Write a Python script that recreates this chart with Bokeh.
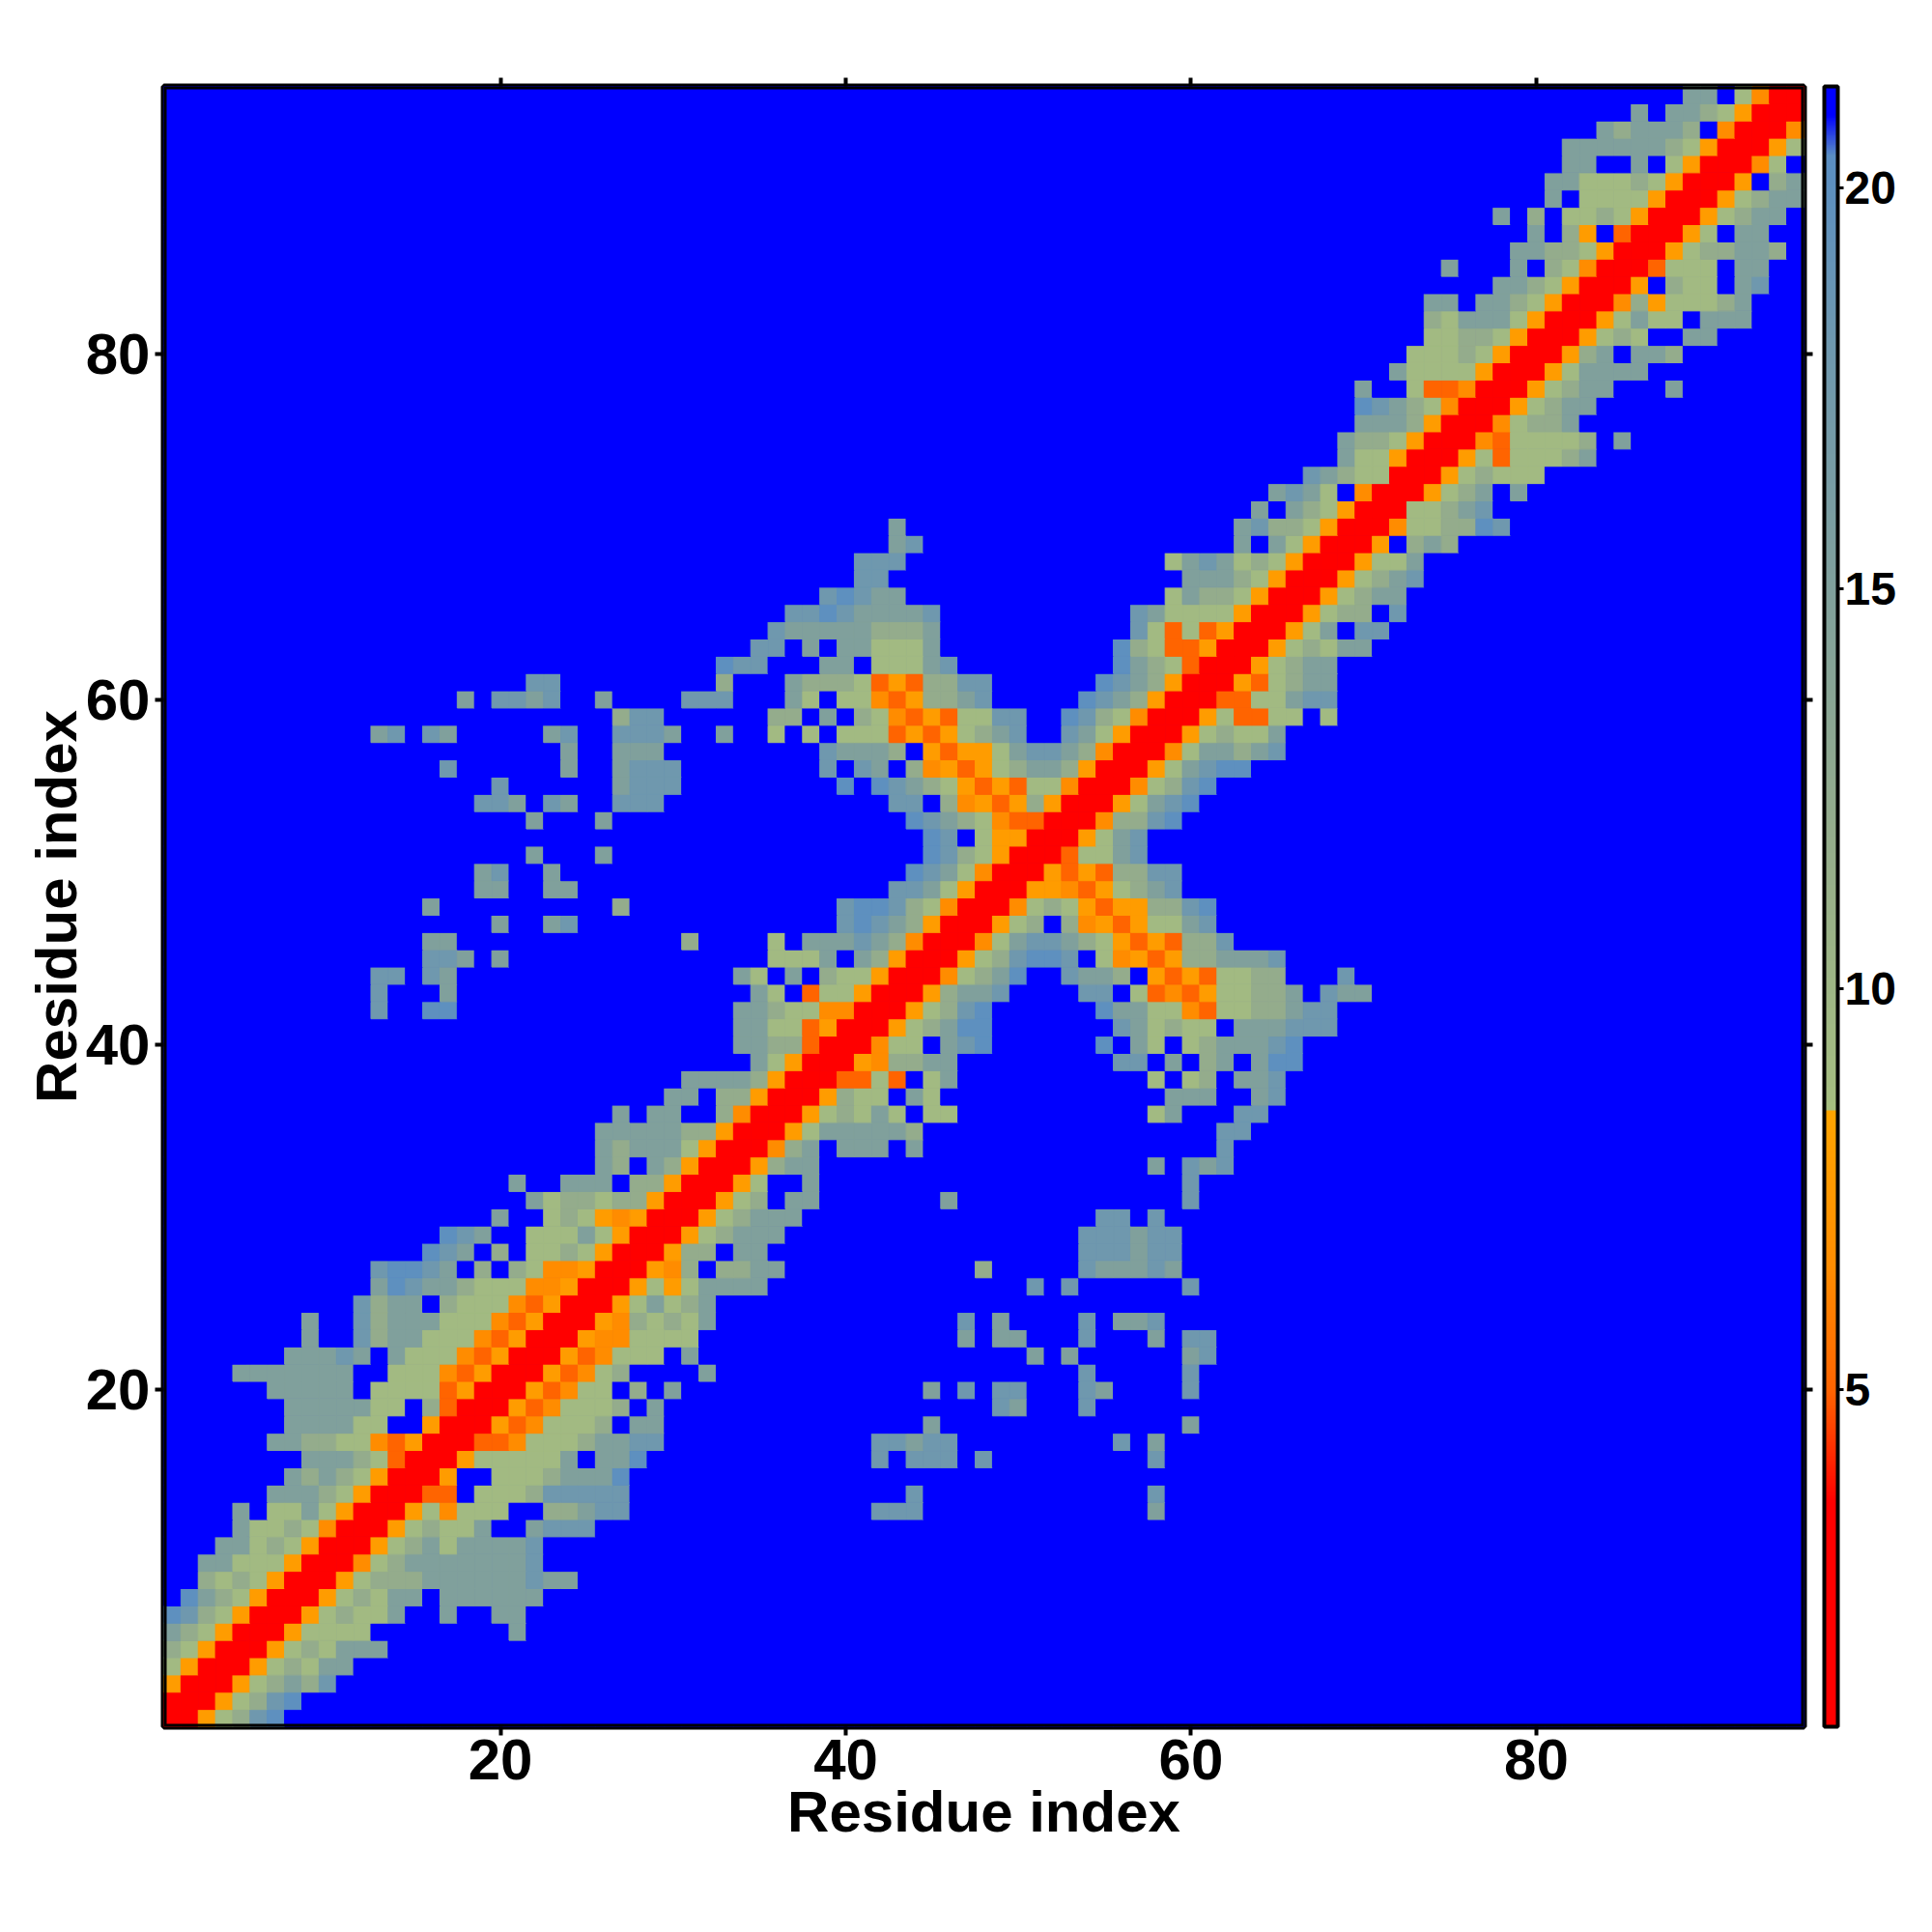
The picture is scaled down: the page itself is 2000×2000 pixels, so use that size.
from bokeh.plotting import figure
from bokeh.models import (LinearColorMapper, ColorBar, Range1d, LinearAxis, FixedTicker,
                          ColumnDataSource, CustomLabelingPolicy)
from bokeh.transform import transform
from bokeh.embed import file_html
from bokeh.resources import INLINE

N_RESIDUES = 95
X_TICKS = [20, 40, 60, 80]
CBAR_TICKS = [5, 10, 15, 20]
AXIS_TITLE = "Residue index"
FONT = "Liberation Sans"

# Distance class -> distance value
CLASS_VALUE = {"r": 2.5, "d": 5.0, "o": 6.5, "y": 7.8, "g": 9.2, "h": 12.0,
               "t": 15.0, "b": 18.0, "s": 20.0, ".": 21.2}

# Each row (residue 1 upward): "start_column:cell classes"; unlisted cells are "." (no contact)
ROWS = [
"1:rryghbs",
"1:rrryghbs",
"1:yrrryghthb",
"1:gyrrryghgtt",
"1:hgyrrryghgttt",
"1:thgyrrrygggg 21:t",
"1:sbhgyrrryghggt 17:t 20:tt",
"2:sthgyrrryghgtt 17:tttttt",
"3:hghgyrrryghhhttttttbtt",
"3:ttgggyrrrogh 15:tttttttb",
"4:ttghgyrrryghtgttttb",
"5:tgghgorrryghggt 22:tbbb",
"5:t 7:ggtgyrrrygoggg 23:hhtbb 42:bbb 58:t",
"7:ttthgyrrrdd 19:ggghbbbbb 44:b 58:b",
"8:ththgyrrry 20:ggghttts",
"9:ttthgdrrrygggggt 26:tts 42:b 44:bbb 48:b 58:b",
"7:tthhggodyrrrddoggg 25:httbb 42:bbtbb 56:b 58:t",
"8:ttttgg 16:yrrrydogg 25:gh 28:tt 45:t 60:t",
"8:tttttgg 16:hdrrrydog 25:ggh 29:t 49:bt 54:b",
"7:ttttt 13:ggggdyrrrydo 25:gg 28:h 30:t 45:t 47:b 49:bb 54:bt 60:b",
"5:ttttttt 14:gggodyrrryd 25:ogh 32:t 54:b 60:b",
"8:tttbt 14:tgggodyrrry 25:doggg 31:t 51:t 53:t 60:tb",
"9:t 12:bhttgggodyrrr 25:yoogggg 47:t 49:tt 54:b 58:t 60:bb",
"9:t 12:bhtttgggodyrr 25:ryohghgt 47:b 49:t 54:b 56:ttb",
"12:bhtt 17:hgggodyrrrygtght",
"13:tsbtthgggooyrrrygygtttt 51:b 53:b 60:b",
"13:bssbt 19:h 21:hgooyrrryoh 33:hhtt 48:h 54:btttbt",
"16:sbt 20:h 22:gghgyrrryhh 34:tt 54:bbbtbb",
"17:sbt 22:gggtgyrrryghttt 54:bbbtbb",
"20:t 23:ghgyoyrrryghttt 55:bb 58:b",
"22:tghhghhyrrrygh 37:tt 46:t 60:b",
"21:t 24:ttt 28:hhyrrryg 38:t 60:b",
"26:th 29:thyrrryhtt 58:t 60:btb",
"26:thtttgyrrroht 40:ttt 44:t 62:b",
"26:ttttthhyrrrygttttth 62:bb",
"27:t 29:tt 33:horrryghgtg 45:gg 58:gt 63:bb",
"30:tt 33:hhyrrryhgg 44:tg 59:ttt 64:tb",
"31:tttthyrrrddgd 45:gt 58:g 60:gh 63:ttb",
"35:tgyrrryohhtt 56:bb 59:t 61:ht 64:tss",
"34:tthhdrrrogg 46:tbs 55:s 57:tg 60:ghtttbs",
"34:ttggdyrrryghtss 56:btghgg 63:tttbbb",
"13:b 16:ss 34:tthggoorrryghbs 55:sttggodgghhtbb",
"13:b 17:t 35:tg 38:dggyrrryhttb 54:bb 57:gdodygghht 68:btt",
"13:bb 16:bt 34:tg 37:t 39:hggyrrroghts 53:btth 58:ydydgghh 69:b",
"16:bbt 20:t 36:gggt 41:thyrrryghbssb 55:goydyhhtttb",
"16:tt 31:h 36:g 38:tttbthorrrogtbbthgydydhhb",
"20:t 23:tb 40:bsbthyrrrygh 53:hoydyggtb",
"16:t 27:h 40:bssbhgorrroghgydyyhhbs",
"19:tt 23:tt 43:bbtgyrrryyodyghtb",
"19:tb 23:t 44:sbtgorrrydydhhbb",
"22:t 26:t 45:sbhgyrrrdggtb",
"45:sb 48:gyyrrrygtb",
"22:t 26:t 44:sbthgoddrrrohhbs",
"19:bbt 23:bt 27:bbb 43:bb 46:hoydyhyrrrygtbs",
"20:b 27:tbbb 40:s 42:sbthgydydggorrroghbs",
"17:b 24:t 27:tbbb 39:b 41:bt 44:hoydyghtthyrrrygtbss",
"24:t 27:ttt 39:bttth 45:ydyygtbbthorrrogtthtb",
"13:tb 16:bt 23:tb 27:bbbt 33:t 36:g 38:g 40:gggdydygh 49:tb 53:btgyrrryghggt",
"27:hbb 36:hh 39:t 41:hgodydggbb 53:sbhgorrrygddgg 68:g",
"18:t 20:bbtb 26:t 31:bbb 37:tg 40:ggodyhhtb 54:sbthyrrrddggtbb",
"22:bb 33:h 37:thhhgdydhhbb 55:sbthyrrrydghtt",
"33:sbb 39:tt 42:gggtb 56:sthgdrrryghtt",
"35:bb 38:t 40:ttgggt 56:shgddyrrryghgtt",
"36:bttttthhht 57:bgdgdyrrrygt 70:bb",
"37:bbsbttttb 57:btggggyrrryghh 72:b",
"39:bsbtt 59:gthhgyrrryghtt",
"41:bb 60:ttthgyrrryghtb",
"41:bbb 59:gtbtghgyrrryggt",
"43:tb 63:t 65:tgyrrry 73:hth",
"43:t 63:tbhhgyrrrogghhsb",
"64:t 66:thgyrrrgghtb",
"65:tbtg 70:orrryght 79:t",
"67:bthggrrryghggg",
"69:tggyrrrygdggght",
"69:thhgyrrrodggggh 85:t",
"70:ttthyrrroghht",
"70:sbthgorrryghtt",
"70:t 73:gddorrryghtt 88:t",
"72:tggggyrrrygtttt",
"73:ggghgyrrryht 86:tth",
"74:gghhgyrrryghg 89:tt",
"74:hgtttgyrrrygtgg 90:ttt",
"74:tt 77:tthgyrrrohyggght",
"78:tthgyrrry 88:hgg 92:tb",
"75:t 79:t 81:hgorrrdggg 92:tt",
"79:tthhgyrrryghhtth",
"80:t 82:hy 85:drrryg 92:tt",
"78:t 80:h 82:gghgyrrryghtt",
"81:t 83:ggggyrrryghtt",
"81:ttggghgyrrry 94:ht",
"82:tt 86:t 88:gyrrrog",
"82:tttttthgyrrryg",
"84:thttth 91:orrro",
"86:t 88:tthgyrrr",
"89:tt 92:gorr",
]

# Colour ramp stops: (distance, rgb)
LOW, HIGH = 0.8, 21.26
STOPS = [(0.8, (255, 0, 0)), (3.6, (255, 0, 0)), (5.0, (255, 100, 0)), (6.5, (255, 140, 0)),
         (8.5, (255, 165, 0)), (8.5001, (166, 190, 128)), (12.0, (148, 172, 140)),
         (15.0, (128, 160, 156)), (18.0, (111, 152, 174)), (20.4, (90, 142, 194)),
         (20.9, (0, 0, 255)), (21.26, (0, 0, 255))]


def ramp(v):
    for (a, ca), (b, cb) in zip(STOPS, STOPS[1:]):
        if v <= b:
            f = (v - a) / (b - a)
            return "#%02x%02x%02x" % tuple(round(x + (y - x) * f) for x, y in zip(ca, cb))
    return "#0000ff"


palette = [ramp(LOW + (HIGH - LOW) * (i + 0.5) / 1024) for i in range(1024)]
mapper = LinearColorMapper(palette=palette, low=LOW, high=HIGH)

xs, ys, vals = [], [], []
for row_no, row in enumerate(ROWS, start=1):
    cells = {}
    for run in row.split():
        start, text = run.split(":")
        for k, ch in enumerate(text):
            cells[int(start) + k] = ch
    for col in range(1, N_RESIDUES + 1):
        xs.append(col)
        ys.append(row_no)
        vals.append(CLASS_VALUE[cells.get(col, ".")])
source = ColumnDataSource(dict(x=xs, y=ys, v=vals))

lo_edge, hi_edge = 0.5, N_RESIDUES + 0.5
p = figure(frame_width=1698, frame_height=1698, output_backend="svg", toolbar_location=None,
           x_range=Range1d(lo_edge, hi_edge), y_range=Range1d(lo_edge, hi_edge),
           min_border_left=169, min_border_top=89, min_border_right=20, min_border_bottom=20,
           background_fill_color="#0000ff", border_fill_color="white")
p.grid.visible = False
p.rect("x", "y", width=1, height=1, source=source,
       fill_color=transform("v", mapper), line_color=transform("v", mapper), line_width=1)
# Frame: the clipped glyph gives the inner half of the border, the outline the outer half
p.quad(left=[lo_edge], right=[hi_edge], bottom=[lo_edge], top=[hi_edge],
       fill_color=None, line_color="black", line_width=6)
p.outline_line_color = "black"
p.outline_line_width = 6

NO_LABELS = CustomLabelingPolicy(code="for (const i of Array.from(indices)) indices.unset(i); return indices;")


def style_axis(ax, labelled):
    ax.ticker = FixedTicker(ticks=X_TICKS)
    ax.major_tick_in = 0
    ax.major_tick_out = 9
    ax.minor_tick_line_color = None
    ax.major_tick_line_color = "black"
    ax.major_tick_line_width = 4
    ax.axis_line_color = None
    if labelled:
        ax.axis_label = AXIS_TITLE
        ax.axis_label_text_font = FONT
        ax.axis_label_text_font_style = "bold"
        ax.axis_label_text_font_size = "60px"
        ax.axis_label_text_color = "black"
        ax.major_label_text_font = FONT
        ax.major_label_text_font_style = "bold"
        ax.major_label_text_font_size = "60px"
        ax.major_label_text_color = "black"
    else:
        ax.major_label_text_font_size = "1px"
        ax.major_label_standoff = 0
        ax.major_label_policy = NO_LABELS


style_axis(p.xaxis[0], True)
style_axis(p.yaxis[0], True)
p.xaxis[0].major_label_standoff = 4
p.yaxis[0].major_label_standoff = 5
p.xaxis[0].axis_label_standoff = -3
p.yaxis[0].axis_label_standoff = -6

top = LinearAxis()
style_axis(top, False)
p.add_layout(top, "above")
right = LinearAxis()
style_axis(right, False)
p.add_layout(right, "right")

bar = ColorBar(color_mapper=mapper, width=14, height=1698, padding=0, margin=33, location=(8, 0),
               ticker=FixedTicker(ticks=CBAR_TICKS),
               major_tick_in=0, major_tick_out=6, major_tick_line_color="black",
               major_tick_line_width=3, minor_tick_line_color=None,
               bar_line_color="black", bar_line_width=4,
               major_label_text_font=FONT, major_label_text_font_style="bold",
               major_label_text_font_size="48px", major_label_text_color="black",
               label_standoff=1, background_fill_color=None, border_line_color=None)
p.add_layout(bar, "right")

open("out.html", "w").write(file_html(p, INLINE))
